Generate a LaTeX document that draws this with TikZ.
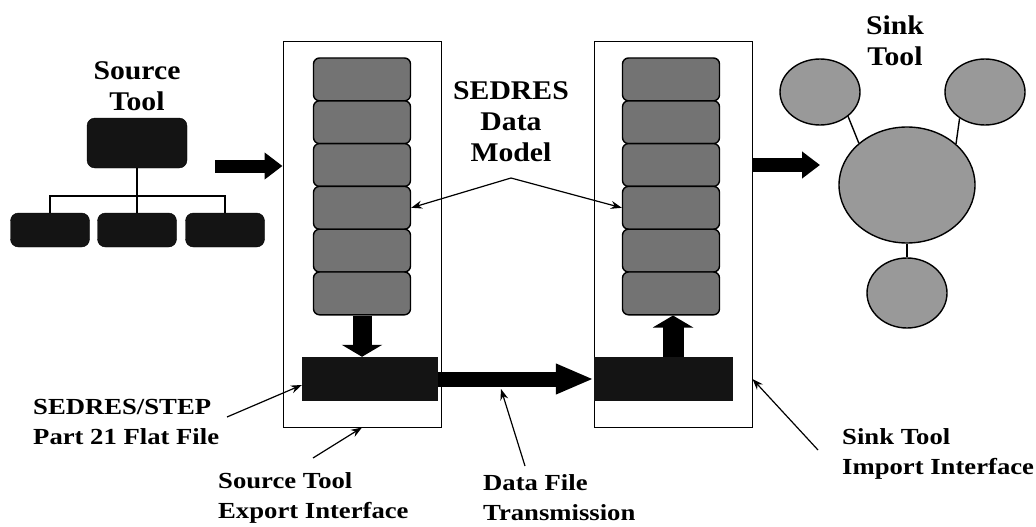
\documentclass[tikz,border=0pt]{standalone}
\usepackage{fontspec}
\setmainfont{Liberation Serif}[FakeStretch=1.1]
\newfontfamily\lblfont{Liberation Serif}[FakeStretch=1.16]
\usetikzlibrary{arrows.meta,shapes.geometric}
\definecolor{layergray}{gray}{0.45}
\definecolor{bubblegray}{gray}{0.6}
\definecolor{nearblack}{gray}{0.08}

\begin{document}
\begin{tikzpicture}[x=1pt,y=-1pt,
    title/.style={font=\fontsize{27}{31}\selectfont\bfseries,align=center,inner sep=0pt},
    lbl/.style={font=\lblfont\fontsize{23}{30}\selectfont\bfseries,align=left,anchor=west,inner sep=0pt},
    frame/.style={draw=black,line width=1pt,minimum width=158pt,minimum height=385pt},
    layer/.style={draw=black,line width=1.4pt,fill=layergray,rounded corners=6pt,minimum width=97pt,minimum height=42.8pt},
    blackbox/.style={fill=nearblack,minimum width=#1,minimum height=44pt,inner sep=0pt},
    treebox/.style={fill=nearblack,draw=black,rounded corners=8pt,minimum width=#1},
    bubble/.style={ellipse,draw=black,line width=1.4pt,fill=bubblegray,inner sep=0pt},
    pointer/.style={-{Stealth[length=11pt,width=8pt]},line width=1.2pt},
    fat/.style={line width=14pt,-{Triangle[length=18pt,width=26pt]}}]
  \useasboundingbox (0,0) rectangle (1036,527);

  % source tool
  \node[title] (srctitle) at (137,86) {Source\\Tool};
  \node[treebox=100pt,minimum height=50pt] (srcroot) at (137,143) {};
  \node[treebox=79pt,minimum height=34pt] (c1) at (50,230) {};
  \node[treebox=79pt,minimum height=34pt] (c2) at (137,230) {};
  \node[treebox=79pt,minimum height=34pt] (c3) at (225,230) {};
  \coordinate (bus) at (137,196);
  \draw[line width=1.5pt] (srcroot.south) -- (bus);
  \draw[line width=1.5pt] (c1.north) |- (bus) -| (c3.north);
  \draw[line width=1.5pt] (bus) -- (c2.north);

  % interfaces
  \node[frame] (exportbox) at (362,234.5) {};
  \node[frame] (importbox) at (673,234.5) {};
  \foreach \i in {1,...,6} {
    \node[layer] (el\i) at (362,{36.6+42.8*\i}) {};
    \node[layer] (il\i) at (671,{36.6+42.8*\i}) {};
  }
  \node[blackbox=136pt] (exportfile) at (370,379) {};
  \node[blackbox=139pt] (importfile) at (663.5,379) {};

  % fat arrows
  \coordinate (feedstart) at (215,166);
  \draw[fat,line width=13pt] (feedstart) -- (feedstart -| exportbox.west);
  \draw[line width=19pt,-{Triangle[length=12pt,width=40pt]}] (el6.south) -- (el6.south |- exportfile.north);
  \draw[line width=21pt,-{Triangle[length=12pt,width=40pt]}] (importfile.north -| 673,0) -- (il6.south -| 673,0);
  \draw[line width=15pt,-{Triangle[length=38pt,width=28pt]}] (exportfile.east) -- (importfile.west);
  \coordinate (sinkin) at (820,165);
  \draw[fat] (sinkin -| importbox.east) -- (sinkin);

  % sink tool
  \node[title] (sinktitle) at (895,41) {Sink\\Tool};
  \node[bubble,minimum width=136pt,minimum height=116pt] (sinkmain) at (907,185) {};
  \node[bubble,minimum width=80pt,minimum height=66pt] (sinktl) at (820,92) {};
  \node[bubble,minimum width=80pt,minimum height=66pt] (sinktr) at (985,92) {};
  \node[bubble,minimum width=80pt,minimum height=70pt] (sinkbot) at (907,293) {};
  \draw[line width=1.4pt] (sinktl.-41) -- (sinkmain.139);
  \draw[line width=1.4pt] (sinktr.-134) -- (sinkmain.40);
  \draw[line width=1.4pt] (sinkmain.south) -- (sinkbot.north);

  % data model
  \node[title] (dmlabel) at (511,122) {SEDRES\\Data\\Model};
  \coordinate (dmfork) at (511,178);
  \draw[pointer] (dmfork) -- (el4.east);
  \draw[pointer] (dmfork) -- (il4.west);

  % labels below
  \node[lbl] (flatlabel) at (33,422) {SEDRES/STEP\\Part 21 Flat File};
  \coordinate (flattail) at (227,417);
  \draw[pointer] (flattail) -- ([yshift=-6pt]exportfile.west);

  \node[lbl] (exportlabel) at (218,498) {Source Tool\\Export Interface};
  \coordinate (exporttail) at (313,458);
  \draw[pointer] (exporttail) -- (exportbox.south);

  \node[lbl] (translabel) at (483,498) {Data File\\Transmission};
  \coordinate (transtail) at (525,466);
  \draw[pointer] (transtail) -- (501,389);

  \node[lbl] (importlabel) at (842,454) {Sink Tool\\Import Interface};
  \coordinate (importtail) at (818,450);
  \draw[pointer] (importtail) -- (importbox.east |- importfile);
\end{tikzpicture}
\end{document}
